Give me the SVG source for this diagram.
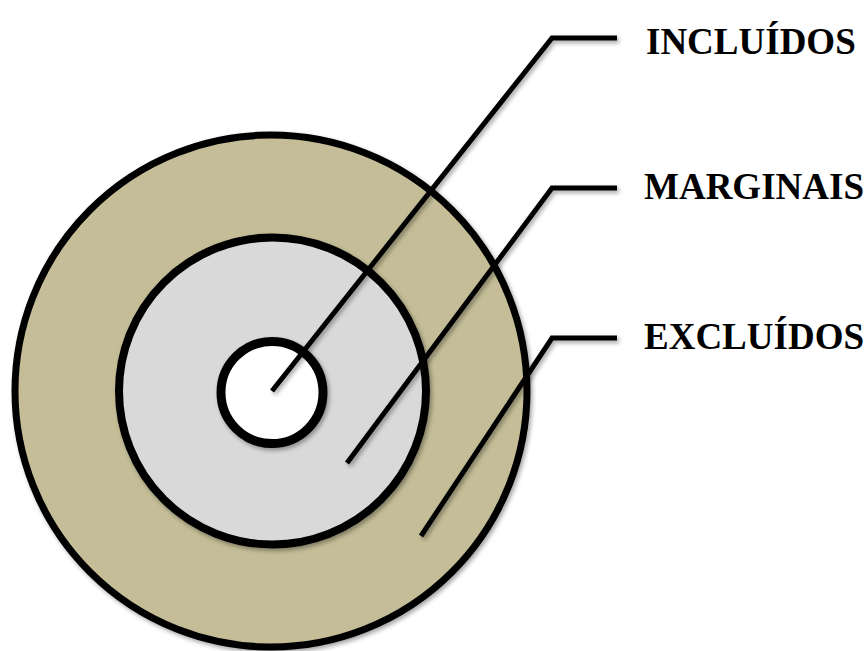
<svg xmlns="http://www.w3.org/2000/svg" width="868" height="651" viewBox="0 0 868 651">
<defs>
<filter id="sh" x="-10%" y="-10%" width="120%" height="120%">
<feDropShadow dx="2" dy="2.5" stdDeviation="2" flood-color="#000" flood-opacity="0.35"/>
</filter>
<style>
.ring{stroke:#000;filter:url(#sh)}
.conn{fill:none;stroke:#000;stroke-width:5;filter:url(#sh)}
.lbl{font-family:"Liberation Serif","Times New Roman",serif;font-weight:bold;font-size:37px;fill:#000}
</style>
</defs>
<rect width="868" height="651" fill="#fff"/>
<g id="excluidos-ring">
<circle class="ring" cx="271" cy="391" r="256" fill="#C4BD97" stroke-width="7"/>
</g>
<g id="marginais-ring">
<circle class="ring" cx="272.5" cy="391" r="153.5" fill="#D9D9D9" stroke-width="8"/>
</g>
<g id="incluidos-ring">
<circle class="ring" cx="272" cy="392.5" r="51" fill="#FFFFFF" stroke-width="9"/>
</g>
<g id="connectors">
<polyline class="conn" points="272,391 552,38 617,38"/>
<polyline class="conn" points="347,463 552,188 617,188"/>
<polyline class="conn" points="421,536 552,338 617,338"/>
</g>
<g id="label-incluidos"><text class="lbl" x="646" y="54">INCLUÍDOS</text></g>
<g id="label-marginais"><text class="lbl" x="644" y="199">MARGINAIS</text></g>
<g id="label-excluidos"><text class="lbl" x="644" y="349">EXCLUÍDOS</text></g>
</svg>
